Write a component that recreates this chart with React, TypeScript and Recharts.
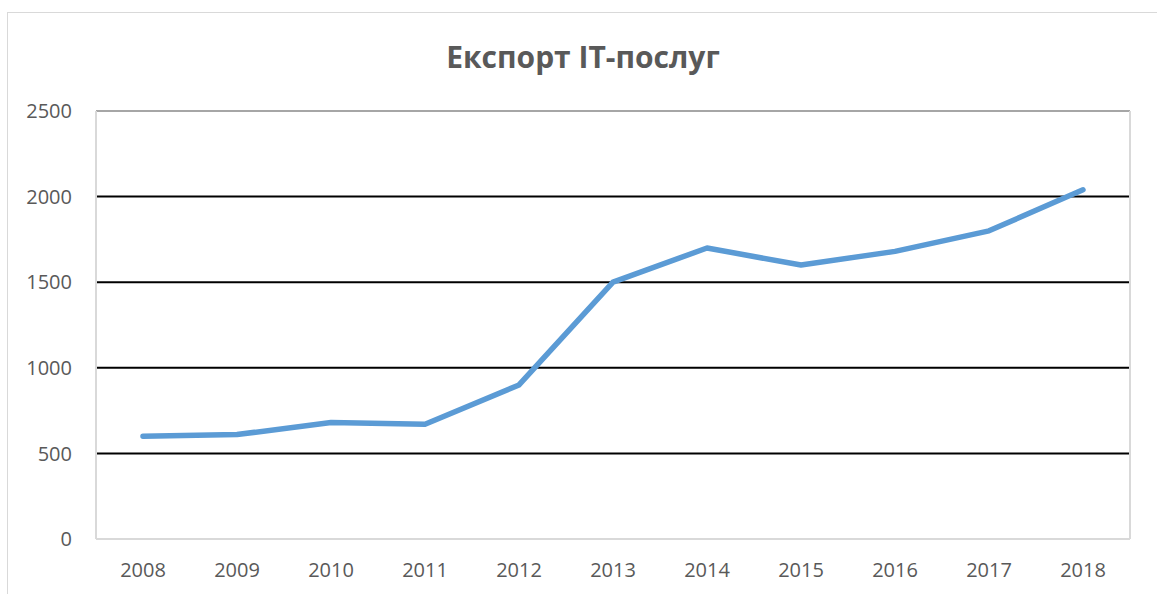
import { LineChart, Line, XAxis, YAxis, CartesianGrid, ReferenceLine } from "recharts"

const years = ["2008", "2009", "2010", "2011", "2012", "2013", "2014", "2015", "2016", "2017", "2018"]
const exportValues = [600, 610, 680, 670, 900, 1500, 1700, 1600, 1680, 1800, 2040]
const yTicks = [0, 500, 1000, 1500, 2000, 2500]
const gridValues = [500, 1000, 1500, 2000]

const data = years.map((year, i) => ({ year, value: exportValues[i] }))

const font = "'Open Sans', 'Noto Sans', sans-serif"
const labelColor = "#595959"
const tick = { fill: labelColor, fontSize: 20, fontFamily: font }

export default function App() {
  return (
    <div style={{ position: "absolute", left: 0, top: 0, width: 1157, height: 594, overflow: "hidden", background: "#fff" }}>
      <div
        style={{
          position: "absolute",
          left: 7,
          top: 12,
          width: 1170,
          height: 620,
          borderLeft: "1px solid #d9d9d9",
          borderTop: "1px solid #d9d9d9",
        }}
      />
      <div
        style={{
          position: "absolute",
          left: 0,
          top: 36,
          width: 1166,
          textAlign: "center",
          fontFamily: font,
          fontWeight: 700,
          fontSize: 30,
          color: labelColor,
        }}
      >
        Експорт IT-послуг
      </div>
      <div style={{ position: "absolute", left: 0, top: 0 }}>
        <LineChart width={1157} height={594} data={data} margin={{ top: 111, right: 0, bottom: 0, left: 0 }}>
          <CartesianGrid yAxisId="l" horizontalValues={gridValues} vertical={false} stroke="#000" strokeWidth={2} />
          <ReferenceLine yAxisId="l" y={2500} stroke="#a6a6a6" strokeWidth={2} />
          <XAxis
            dataKey="year"
            scale="band"
            height={55}
            tick={tick}
            tickLine={false}
            tickSize={0}
            tickMargin={24}
            axisLine={{ stroke: "#d9d9d9", strokeWidth: 2 }}
          />
          <YAxis
            yAxisId="l"
            width={96}
            domain={[0, 2500]}
            ticks={yTicks}
            tick={tick}
            tickLine={false}
            tickSize={0}
            tickMargin={24}
            axisLine={{ stroke: "#d9d9d9", strokeWidth: 2 }}
          />
          <YAxis
            yAxisId="r"
            orientation="right"
            width={27}
            tick={false}
            tickLine={false}
            axisLine={{ stroke: "#d9d9d9", strokeWidth: 2 }}
          />
          <Line
            yAxisId="l"
            dataKey="value"
            stroke="#5b9bd5"
            strokeWidth={5.5}
            strokeLinecap="round"
            strokeLinejoin="round"
            dot={false}
            activeDot={false}
            isAnimationActive={false}
          />
        </LineChart>
      </div>
    </div>
  )
}
